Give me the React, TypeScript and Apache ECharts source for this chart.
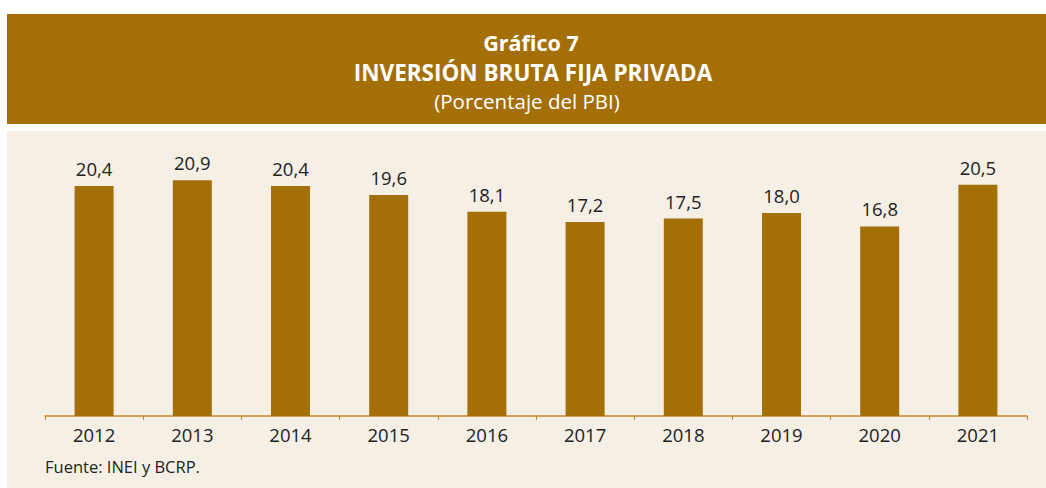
import React, { useEffect, useRef } from "react";
import * as echarts from "echarts";

const years = ["2012", "2013", "2014", "2015", "2016", "2017", "2018", "2019", "2020", "2021"];
const values = [20.4, 20.9, 20.4, 19.6, 18.1, 17.2, 17.5, 18.0, 16.8, 20.5];
const titleLines = ["Gráfico 7", "INVERSIÓN BRUTA FIJA PRIVADA", "(Porcentaje del PBI)"];
const source = "Fuente: INEI y BCRP.";

const GOLD = "#A56F08";
const BEIGE = "#F5EFE6";
const FONT = "'Open Sans', 'Noto Sans', sans-serif";

export default function App() {
  const ref = useRef<HTMLDivElement>(null);
  useEffect(() => {
    const chart = echarts.init(ref.current!, null, { renderer: "svg" });
    chart.setOption({
      animation: false,
      backgroundColor: "#ffffff",
      graphic: [
        { type: "rect", z: -10, shape: { x: 7, y: 14, width: 1039, height: 110 }, style: { fill: GOLD } },
        { type: "rect", z: -10, shape: { x: 7, y: 131, width: 1039, height: 357 }, style: { fill: BEIGE } },
        { type: "text", x: 531, y: 42, style: { text: titleLines[0], fill: "#fff", font: `bold 21.5px ${FONT}`, align: "center", verticalAlign: "middle" } },
        { type: "text", x: 533, y: 72, style: { text: titleLines[1], fill: "#fff", font: `bold 22.5px ${FONT}`, align: "center", verticalAlign: "middle" } },
        { type: "text", x: 527, y: 101, style: { text: titleLines[2], fill: "#fff", font: `20.5px ${FONT}`, align: "center", verticalAlign: "middle" } },
        { type: "text", x: 45, y: 466, style: { text: source, fill: "#222", font: `16.5px ${FONT}`, align: "left", verticalAlign: "middle" } },
      ],
      grid: { left: 45, right: 19, top: 134, bottom: 72, containLabel: false },
      xAxis: {
        type: "category",
        data: years,
        axisLine: { lineStyle: { color: "#C08A2A", width: 1.5 } },
        axisTick: { show: true, length: 4, lineStyle: { color: "#C08A2A" } },
        axisLabel: { color: "#222", fontSize: 18.5, fontFamily: FONT, margin: 9 },
      },
      yAxis: {
        type: "value",
        min: 0,
        max: 25,
        show: false,
        splitLine: { show: false },
      },
      series: [
        {
          type: "bar",
          data: values,
          barWidth: 39,
          itemStyle: { color: GOLD },
          label: {
            show: true,
            position: "top",
            distance: 8,
            color: "#222",
            fontSize: 18.5,
            fontFamily: FONT,
            formatter: (p: any) => p.value.toFixed(1).replace(".", ","),
          },
        },
      ],
    });
    return () => chart.dispose();
  }, []);
  return <div ref={ref} style={{ position: "fixed", left: 0, top: 0, width: 1046, height: 488 }} />;
}
